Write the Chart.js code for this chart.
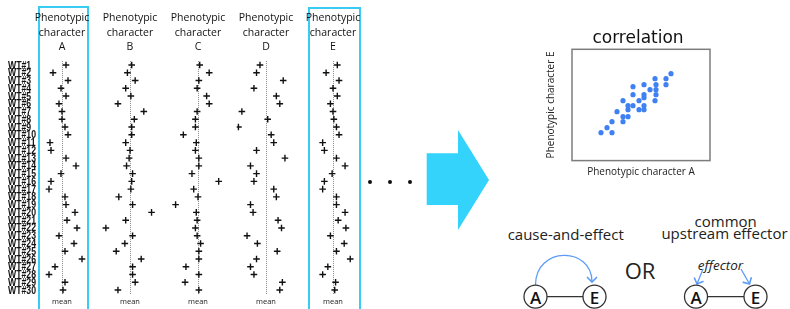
<!DOCTYPE html>
<html><head><meta charset="utf-8">
<script src="https://cdn.jsdelivr.net/npm/chart.js@4.4.1/dist/chart.umd.min.js"></script>
<style>
html,body{margin:0;padding:0;background:#fff;}
body{width:790px;height:309px;position:relative;overflow:hidden;font-family:'Open Sans',sans-serif;}
canvas{position:absolute;top:0;}
.box{position:absolute;border:2px solid #38ccf4;border-bottom:none;box-sizing:border-box;}
svg{position:absolute;left:0;top:0;}
</style></head><body>
<svg width="790" height="309" viewBox="0 0 790 309">
  <defs>
    <marker id="ah" markerUnits="userSpaceOnUse" markerWidth="12" markerHeight="12" refX="6" refY="6" orient="auto">
      <polyline points="1,1 6,6 1,11" fill="none" stroke="#5b9cf6" stroke-width="1.6"/>
    </marker>
  </defs>
  <circle cx="370" cy="182" r="2" fill="#111"/>
  <circle cx="390" cy="182" r="2" fill="#111"/>
  <circle cx="410" cy="182" r="2" fill="#111"/>
  <polygon points="426.7,153.3 458,153.3 458,130 489,180 458,230 458,205 426.7,205" fill="#33d3fb"/>
  <g font-family="Open Sans, sans-serif" fill="#222" text-anchor="middle" dominant-baseline="central">
    <text x="565.7" y="234" font-size="15">cause-and-effect</text>
    <text x="725.7" y="220.7" font-size="15">common</text>
    <text x="724.5" y="233.3" font-size="15">upstream effector</text>
    <text x="640" y="270" font-size="22">OR</text>
    <text x="720.5" y="265" font-size="13.5" font-style="italic">effector</text>
  </g>
  <path d="M535.5 285 C535.5 246 592 246 592 282" fill="none" stroke="#5b9cf6" stroke-width="1.3" marker-end="url(#ah)"/>
  <line x1="703" y1="269" x2="697" y2="284" stroke="#5b9cf6" stroke-width="1.3" marker-end="url(#ah)"/>
  <line x1="741" y1="269" x2="749.5" y2="284" stroke="#5b9cf6" stroke-width="1.3" marker-end="url(#ah)"/>
  <g stroke="#333" stroke-width="1.2">
    <line x1="547" y1="296.7" x2="583" y2="296.7"/>
    <line x1="707.5" y1="296.7" x2="744" y2="296.7"/>
  </g>
  <g stroke="#333" stroke-width="1.3" fill="#fff">
    <circle cx="535.5" cy="296.7" r="11.5"/>
    <circle cx="594.5" cy="296.7" r="11.5"/>
    <circle cx="696" cy="296.7" r="11.5"/>
    <circle cx="755.5" cy="296.7" r="11.5"/>
  </g>
  <g font-family="Open Sans, sans-serif" fill="#111" text-anchor="middle" dominant-baseline="central" font-size="17" font-weight="600">
    <text x="535.5" y="297.5">A</text>
    <text x="594.5" y="297.5">E</text>
    <text x="696" y="297.5">A</text>
    <text x="755.5" y="297.5">E</text>
  </g>
</svg>
<div class="box" style="left:38px;top:6px;width:51px;height:310px"></div>
<div class="box" style="left:308px;top:7px;width:53px;height:310px"></div>
<canvas id="cA" width="124" height="309" style="left:0px"></canvas>
<canvas id="cB" width="68" height="309" style="left:96px"></canvas>
<canvas id="cC" width="68" height="309" style="left:164px"></canvas>
<canvas id="cD" width="68" height="309" style="left:232px"></canvas>
<canvas id="cE" width="68" height="309" style="left:299px"></canvas>
<canvas id="cCorr" width="204" height="181" style="left:536px"></canvas>
<script>
// ---- data ----
const rowLabels = ['WT#1','WT#2','WT#3','WT#4','WT#5','WT#6','WT#7','WT#8','WT#9','WT#10',
  'WT#11','WT#12','WT#13','WT#14','WT#15','WT#16','WT#17','WT#18','WT#19','WT#20',
  'WT#21','WT#22','WT#23','WT#24','WT#25','WT#26','WT#27','WT#28','WT#29','WT#30'];
const columnLetters = ['A','B','C','D','E'];
const meanLabel = 'mean';
// deviation of each individual from the mean, per phenotypic character
const colA = [4,-9,6,-1,4,-3,0,0,3,6,-12,-11,4,14,-1,-11,-13,3,4,13,5,15,-3,12,3,20,-7,-13,3,1];
const colB = [2,-3,6,-5,1,-14,16,5,2,2,-5,0,-1,-4,3,2,1,-13,3,25,-5,-28,3,-6,-16,13,3,3,6,-14];
const colC = [2,13,1,-1,10,13,-1,-3,-3,-17,-2,-3,1,1,-7,24,-5,0,-26,-2,-1,-3,-1,3,1,1,-14,1,-15,1];
const colD = [-7,-11,20,-14,12,16,-28,2,-32,6,9,-11,22,-18,-11,-14,9,12,-18,-15,14,18,-22,-10,13,-11,-18,-14,19,16];
const colE = [5,-8,7,0,5,-3,0,1,4,7,-12,-10,4,14,-1,-10,-12,4,4,14,6,15,-3,13,4,20,-6,-12,3,2];
// correlation scatter (character A vs character E)
const corrX = [99,83,94,72,84,94,61,78,84,61,72,84,72,51,67,83,56,61,72,56,67,72,45,51,56,40,51,35,29,40];
const corrY = [87,82,82,76,76,76,74,71,71,66,66,66,63,60,60,60,55,55,55,51,51,51,49,44,44,39,39,33,28,28];

// condensed row labels drawn at the category scale's tick positions
const rowLabelPlugin = {
  id:'rowLabels',
  afterDraw(chart){
    const s = chart.scales.y; const ctx = chart.ctx;
    ctx.save();
    ctx.font = 'bold 11px "Liberation Sans", Arial, sans-serif';
    const sx = Math.min(1, 28 / ctx.measureText('WT#10').width);
    ctx.fillStyle = '#111'; ctx.textAlign = 'left'; ctx.textBaseline = 'middle';
    s.ticks.forEach((t, i) => {
      ctx.save();
      ctx.translate(s.left, s.getPixelForTick(i) + 0.5);
      ctx.scale(sx, 1);
      ctx.fillText(s.getLabelForValue(t.value), 0, 0);
      ctx.restore();
    });
    ctx.restore();
  }
};

function columnChart(id, letter, values, withLabels) {
  const y = { type:'category', offset:true, display: withLabels,
    grid:{display:false}, border:{display:false},
    ticks:{display:false, autoSkip:false} };
  const scales = {
    x: { type:'linear', min: withLabels ? -23 : -34, max:34,
      afterBuildTicks: s => { s.ticks = [{value:0}]; },
      ticks:{display:true, maxRotation:0, autoSkip:false, padding:3.6,
        callback: v => (v === 0 ? meanLabel : ''),
        font:{family:'Open Sans', size:7.5, lineHeight:1.2}, color:'#222'},
      grid:{ color:'#8a8a8a', drawTicks:false, lineWidth:1 },
      border:{display:false, dash:[1,1]},
      afterFit: s => { s.height = 15.1; } },
    y: y
  };
  if (withLabels) {
    y.afterFit = s => { s.width = 31; };
    scales.y2 = { type:'category', position:'right', offset:true, display:true,
      grid:{display:false}, border:{display:false}, ticks:{display:false},
      afterFit: s => { s.width = 20; } };
  }
  return new Chart(document.getElementById(id), {
    type:'line',
    data:{ labels: rowLabels, datasets:[{ data: values, showLine:false,
      pointStyle:'cross', pointRadius:3.3, pointHoverRadius:3.3, pointBorderWidth:1.4,
      pointBorderColor:'#111', pointBackgroundColor:'#111', borderColor:'#111' }] },
    options:{
      indexAxis:'y', responsive:false, animation:false, events:[],
      layout:{ padding: withLabels ? {left:8, right:8, top:0, bottom:0} : 0 },
      plugins:{ legend:{display:false}, tooltip:{enabled:false},
        title:{ display:true, text:['Phenotypic','character',letter],
          font:{family:'Open Sans', size:10.5, lineHeight:1.381, weight:'normal'}, color:'#111',
          padding:{top:11.25, bottom:6.35} } },
      scales: scales
    },
    plugins: withLabels ? [rowLabelPlugin] : []
  });
}

const columns = [colA, colB, colC, colD, colE];
const ids = ['cA','cB','cC','cD','cE'];
columns.forEach((vals, i) => columnChart(ids[i], columnLetters[i], vals, i === 0));

const framePlugin = {
  id:'frame',
  afterDraw(chart){
    const {ctx, chartArea:a} = chart;
    ctx.save(); ctx.strokeStyle = '#7d7d7d'; ctx.lineWidth = 1.5;
    ctx.strokeRect(a.left, a.top, a.right - a.left, a.bottom - a.top);
    ctx.restore();
  }
};

new Chart(document.getElementById('cCorr'), {
  type:'scatter',
  data:{ datasets:[{ data: corrX.map((x, i) => ({x: x, y: corrY[i]})),
    pointRadius:2.6, pointHoverRadius:2.6, pointBackgroundColor:'#3f80f3', pointBorderWidth:0 }] },
  options:{ responsive:false, animation:false, events:[],
    layout:{padding:0},
    plugins:{ legend:{display:false}, tooltip:{enabled:false},
      title:{display:true, text:'correlation', font:{family:'DejaVu Sans', size:17, lineHeight:1.2, weight:'normal'}, color:'#111', padding:{top:28.3, bottom:0.6}} },
    scales:{
      x:{ min:0, max:138, ticks:{display:false}, grid:{display:false, drawTicks:false}, border:{display:false},
        title:{display:true, text:'Phenotypic character A', font:{family:'Open Sans', size:10, lineHeight:1.36}, color:'#222', padding:{top:4.5, bottom:2.3}} },
      y:{ min:0, max:111.4, ticks:{display:false}, grid:{display:false, drawTicks:false}, border:{display:false},
        title:{display:true, text:'Phenotypic character E', font:{family:'Open Sans', size:10, lineHeight:1.36}, color:'#222', padding:{top:8.2, bottom:0}},
        afterFit: s => { s.width = 36; } },
      y2:{ type:'linear', position:'right', display:true, ticks:{display:false}, grid:{display:false, drawTicks:false}, border:{display:false},
        afterFit: s => { s.width = 30; } }
    }
  },
  plugins:[framePlugin]
});
</script>
</body></html>
